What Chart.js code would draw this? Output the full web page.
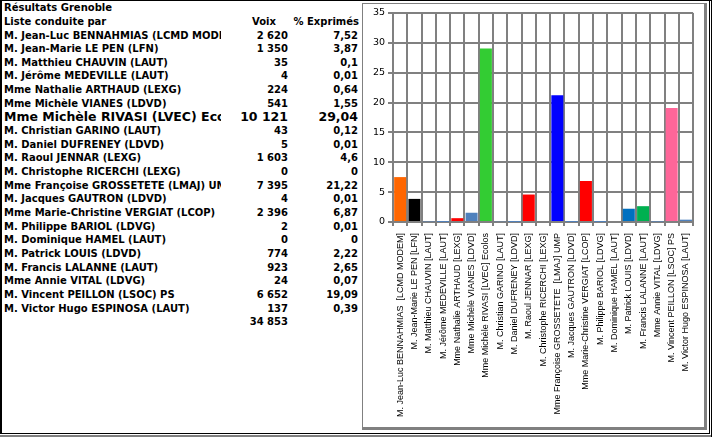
<!DOCTYPE html>
<html>
<head>
<meta charset="utf-8">
<script src="https://cdn.jsdelivr.net/npm/chart.js@4"></script>
<style>
body { margin:0; width:712px; height:437px; background:#fff; position:relative; overflow:hidden; }
.ln { position:absolute; }
#tbl div { position:absolute; white-space:nowrap; overflow:hidden; height:14px; line-height:14px;
  font-family:"DejaVu Sans",sans-serif; font-weight:bold; font-size:10px; color:#000; }
#box { position:absolute; left:362px; top:3px; width:341px; height:423px;
  border-left:1px solid #808080; border-top:1px solid #808080;
  border-right:3px solid #808080; border-bottom:3px solid #808080; }
</style>
</head>
<body>
<div class="ln" style="left:0;top:0;width:712px;height:1px;background:#000"></div>
<div class="ln" style="left:0;top:0;width:2px;height:434px;background:#000"></div>
<div class="ln" style="left:0;top:433px;width:710px;height:1px;background:#000"></div>
<div class="ln" style="left:0;top:435px;width:712px;height:2px;background:#808080"></div>
<div class="ln" style="left:709px;top:0;width:1px;height:434px;background:#000"></div>
<div class="ln" style="left:711px;top:0;width:1px;height:437px;background:#000"></div>
<div id="tbl"></div>
<div id="box"><canvas id="myChart"></canvas></div>
<script>
// table rows (left part of the sheet)
var names = ['M. Jean-Luc  BENNAHMIAS (LCMD MODEM)', 'M. Jean-Marie LE PEN (LFN)', 'M. Matthieu CHAUVIN (LAUT)',
  'M. Jérôme MEDEVILLE (LAUT)', 'Mme Nathalie ARTHAUD (LEXG)', 'Mme Michèle VIANES (LDVD)',
  'Mme Michèle RIVASI (LVEC) Ecolos', 'M. Christian GARINO (LAUT)', 'M. Daniel DUFRENEY (LDVD)',
  'M. Raoul JENNAR (LEXG)', 'M. Christophe RICERCHI (LEXG)', 'Mme Françoise GROSSETETE (LMAJ) UMP',
  'M. Jacques GAUTRON (LDVD)', 'Mme Marie-Christine VERGIAT (LCOP)', 'M. Philippe BARIOL (LDVG)',
  'M. Dominique HAMEL (LAUT)', 'M. Patrick LOUIS (LDVD)', 'M. Francis LALANNE (LAUT)',
  'Mme Annie VITAL (LDVG)', 'M. Vincent PEILLON (LSOC) PS', 'M. Victor Hugo ESPINOSA (LAUT)'];
var voix = ['2 620', '1 350', '35', '4', '224', '541', '10 121', '43', '5', '1 603', '0', '7 395',
  '4', '2 396', '2', '0', '774', '923', '24', '6 652', '137'];
var pctText = ['7,52', '3,87', '0,1', '0,01', '0,64', '1,55', '29,04', '0,12', '0,01', '4,6', '0', '21,22',
  '0,01', '6,87', '0,01', '0', '2,22', '2,65', '0,07', '19,09', '0,39'];
var total = '34 853';

// chart data
var labels = ['M. Jean-Luc BENNAHMIAS  [LCMD MODEM]', 'M. Jean-Marie LE PEN [LFN]', 'M. Matthieu CHAUVIN [LAUT]',
  'M. Jérôme MEDEVILLE [LAUT]', 'Mme Nathalie ARTHAUD [LEXG]', 'Mme Michèle VIANES [LDVD]',
  'Mme Michèle RIVASI [LVEC] Ecolos', 'M. Christian GARINO [LAUT]', 'M. Daniel DUFRENEY [LDVD]',
  'M. Raoul JENNAR [LEXG]', 'M. Christophe RICERCHI [LEXG]', 'Mme Françoise GROSSETETE  [LMAJ] UMP',
  'M. Jacques GAUTRON [LDVD]', 'Mme Marie-Christine VERGIAT [LCOP]', 'M. Philippe BARIOL [LDVG]',
  'M. Dominique HAMEL [LAUT]', 'M. Patrick LOUIS [LDVD]', 'M. Francis LALANNE [LAUT]',
  'Mme Annie VITAL [LDVG]', 'M. Vincent PEILLON [LSOC] PS', 'M. Victor Hugo ESPINOSA [LAUT]'];
var pct = [7.52, 3.87, 0.1, 0.01, 0.64, 1.55, 29.04, 0.12, 0.01, 4.6, 0, 21.22,
  0.01, 6.87, 0.01, 0, 2.22, 2.65, 0.07, 19.09, 0.39];
var barColors = ['#FF6600', '#000000', '#4F81BD', '#4F81BD', '#FF0000', '#4F81BD', '#33CC33', '#4F81BD',
  '#4F81BD', '#FF0000', '#FF0000', '#0000FF', '#4F81BD', '#FF0000', '#4F81BD', '#4F81BD',
  '#0070C0', '#00B050', '#4F81BD', '#FF6699', '#4F81BD'];

// build the table
var tbl = document.getElementById('tbl');
function cell(txt, left, width, row, align, size) {
  var d = document.createElement('div');
  d.textContent = txt;
  d.style.left = left + 'px';
  d.style.width = width + 'px';
  d.style.top = (8.2 + 13.65 * row - 7) + 'px';
  d.style.textAlign = align;
  if (size) { d.style.fontSize = size + 'px'; d.style.height = '16px'; d.style.lineHeight = '16px'; d.style.top = (8.2 + 13.65 * row - 8) + 'px'; }
  tbl.appendChild(d);
}
cell('Résultats Grenoble', 4, 220, 0, 'left');
cell('Liste conduite par', 4, 220, 1, 'left');
cell('Voix', 226, 50, 1, 'right');
cell('% Exprimés', 280, 79, 1, 'right');
for (var i = 0; i < names.length; i++) {
  var big = (i == 6) ? 12.5 : 0;
  cell(names[i], 4, 217, i + 2, 'left', big);
  cell(voix[i], 226, 62, i + 2, 'right', big);
  cell(pctText[i], 290, 68, i + 2, 'right', big);
}
cell(total, 226, 62, 23, 'right');

var ctx = document.getElementById("myChart").getContext("2d");
var myChart = new Chart(ctx, {
    type: 'bar',
    data: {
        labels: labels,
        datasets: [{
            data: pct,
            backgroundColor: barColors,
            barPercentage: 0.84,
            categoryPercentage: 1
        }]
    },
    options: {
        responsive: true,
        maintainAspectRatio: false,
        animation: false,
        layout: { padding: { left: 0, right: 10, top: 9, bottom: 0 } },
        plugins: { legend: { display: false }, tooltip: { enabled: false } },
        scales: {
            x: {
                grid: { color: '#808080', lineWidth: 2, tickLength: 4, offset: true },
                border: { color: '#808080', width: 2 },
                ticks: { color: '#000', autoSkip: false, maxRotation: 90, minRotation: 90, padding: 7,
                    font: { family: 'Liberation Sans', size: 9 } },
                afterFit: function (s) { s.height = 205; }
            },
            y: {
                min: 0, max: 35,
                grid: { color: '#808080', lineWidth: 2, tickLength: 5 },
                border: { color: '#808080', width: 2 },
                ticks: { stepSize: 5, color: '#000', padding: 3,
                    font: { family: 'DejaVu Sans', size: 9.5 } },
                afterFit: function (s) { s.width = 30; }
            }
        }
    }
});
</script>
</body>
</html>
